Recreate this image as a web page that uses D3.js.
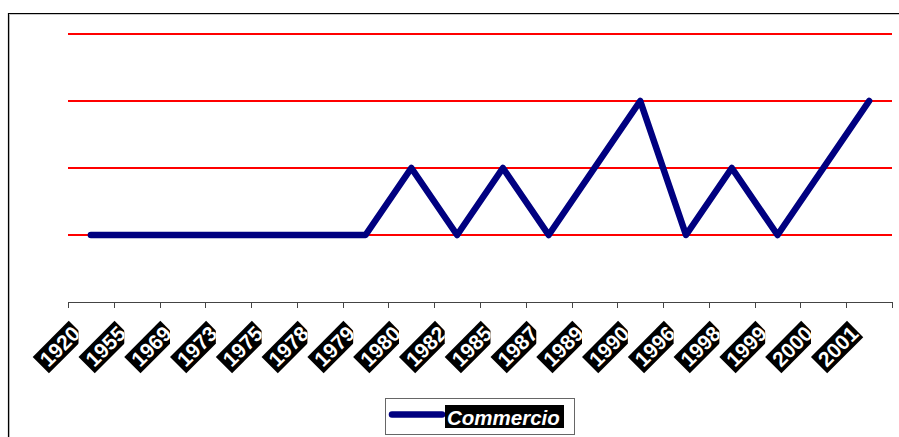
<!DOCTYPE html>
<html>
<head>
<meta charset="utf-8">
<script src="https://cdn.jsdelivr.net/npm/d3@7"></script>
<style>
  html, body { margin: 0; padding: 0; background: #fff; }
  svg { display: block; }
</style>
</head>
<body>
<svg id="chart" width="899" height="437"></svg>
<script>
// Categories (years) and the "Commercio" series
const years = ["1920","1955","1969","1973","1975","1978","1979","1980","1982",
               "1985","1987","1989","1990","1996","1998","1999","2000","2001"];
const commercio = [1,1,1,1,1,1,1,2,1,2,1,2,3,1,2,1,2,3];
const gridValues = [1,2,3,4];
const seriesName = "Commercio";

const svg = d3.select("#chart");
const W = 899, H = 437;

const x = d3.scaleBand().domain(years).range([68, 892]).paddingInner(0).paddingOuter(0);
const y = d3.scaleLinear().domain([0, 4]).range([302, 34]);

// Outer frame (black edge with grey inner shade)
svg.append("path").attr("d", `M9.5,${H} V14.5 H${W}`)
  .attr("fill", "none").attr("stroke", "#c8c8c8").attr("stroke-width", 1);
svg.append("path").attr("d", `M8.5,${H} V13.5 H${W}`)
  .attr("fill", "none").attr("stroke", "#000").attr("stroke-width", 1.2);

// Horizontal gridlines
svg.append("g").selectAll("line").data(gridValues).join("line")
  .attr("x1", x.range()[0]).attr("x2", x.range()[1])
  .attr("y1", d => y(d)).attr("y2", d => y(d))
  .attr("stroke", "#ff0000").attr("stroke-width", 2.2);

// Category axis: baseline and ticks on the band edges
const axis = svg.append("g");
axis.append("line")
  .attr("x1", x.range()[0]).attr("x2", x.range()[1])
  .attr("y1", y(0) + 0.5).attr("y2", y(0) + 0.5)
  .attr("stroke", "#444").attr("stroke-width", 1);
const tickPos = years.map(d => x(d)).concat([x.range()[1]]);
axis.selectAll("line.tick").data(tickPos).join("line").attr("class", "tick")
  .attr("x1", d => Math.round(d) + 0.5).attr("x2", d => Math.round(d) + 0.5)
  .attr("y1", y(0)).attr("y2", y(0) + 6)
  .attr("stroke", "#444").attr("stroke-width", 1);

// Rotated year labels in black boxes
const defs = svg.append("defs");
const labels = svg.append("g");
years.forEach((yr, i) => {
  const cx = x(yr) + x.bandwidth() / 2;
  const outer = labels.append("g");
  if (i < years.length - 1) {
    const id = "clip" + i;
    defs.append("clipPath").attr("id", id)
      .append("rect").attr("x", 0).attr("y", 300).attr("width", x(yr) + 10.5).attr("height", 100);
    outer.attr("clip-path", `url(#${id})`);
  }
  const g = outer.append("g").attr("transform", `translate(${cx - 14},329) rotate(-45)`);
  g.append("rect").attr("x", -51).attr("y", -11.5).attr("width", 51).attr("height", 23).attr("fill", "#000");
  g.append("text").attr("x", -1).attr("y", 7.5)
    .attr("text-anchor", "end")
    .attr("font-family", "Liberation Sans, Arial, sans-serif")
    .attr("font-weight", "bold").attr("font-size", 21)
    .attr("fill", "#fff").text(yr);
});

// Series line
const line = d3.line()
  .x((d, i) => x(years[i]) + x.bandwidth() / 2)
  .y(d => y(d));
svg.append("path").datum(commercio)
  .attr("d", line)
  .attr("fill", "none").attr("stroke", "#000080").attr("stroke-width", 6.5)
  .attr("stroke-linejoin", "round").attr("stroke-linecap", "round");

// Legend
const lg = svg.append("g");
lg.append("rect").attr("x", 385.5).attr("y", 398.5).attr("width", 189).attr("height", 36)
  .attr("fill", "#fff").attr("stroke", "#666").attr("stroke-width", 1);
lg.append("line").attr("x1", 392).attr("x2", 442).attr("y1", 414.5).attr("y2", 414.5)
  .attr("stroke", "#000080").attr("stroke-width", 6.5).attr("stroke-linecap", "round");
lg.append("rect").attr("x", 445).attr("y", 405).attr("width", 119).attr("height", 23).attr("fill", "#000");
lg.append("text").attr("x", 447).attr("y", 425)
  .attr("font-family", "Liberation Sans, Arial, sans-serif")
  .attr("font-weight", "bold").attr("font-style", "italic").attr("font-size", 20.5)
  .attr("fill", "#fff").text(seriesName);
</script>
</body>
</html>
